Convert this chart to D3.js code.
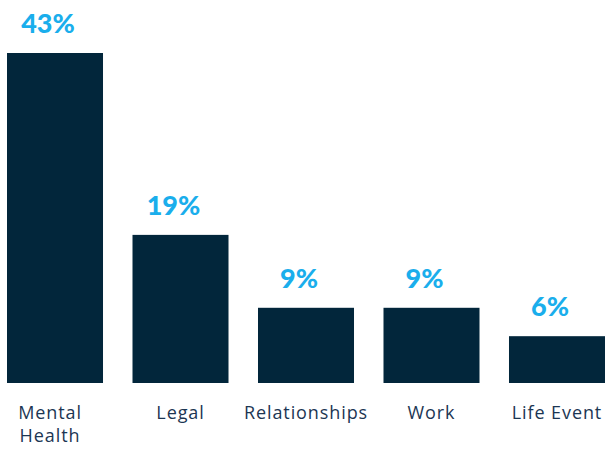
<!DOCTYPE html>
<html>
<head>
<meta charset="utf-8">
<script src="https://cdn.jsdelivr.net/npm/d3@7"></script>
<style>
  body { margin: 0; background: #fff; }
</style>
</head>
<body>
<div id="chart"></div>
<script>
// datos
const categorias = ["Mental Health", "Legal", "Relationships", "Work", "Life Event"];
const valores = [43, 19.3, 9.8, 9.8, 6.1];
const etiquetas = ["43%", "19%", "9%", "9%", "6%"];

const width = 605;
const height = 450;

const svg = d3.select("#chart")
    .append("svg")
    .attr("width", width)
    .attr("height", height);

const xScale = d3.scaleBand()
    .domain(categorias)
    .range([7, 605])
    .paddingInner(0.235)
    .paddingOuter(0);

const yScale = d3.scaleLinear()
    .domain([0, 43])
    .range([383, 53]);

// barras
svg.selectAll("rect")
    .data(valores)
    .enter()
    .append("rect")
    .attr("x", (d, i) => xScale(categorias[i]))
    .attr("y", d => yScale(d))
    .attr("width", xScale.bandwidth())
    .attr("height", d => yScale(0) - yScale(d))
    .attr("fill", "#02263b");

// porcentajes arriba de cada barra
svg.selectAll(".valor")
    .data(valores)
    .enter()
    .append("text")
    .attr("class", "valor")
    .text((d, i) => etiquetas[i])
    .attr("x", (d, i) => xScale(categorias[i]) + xScale.bandwidth() / 2)
    .attr("dx", -7)
    .attr("y", d => yScale(d) - 20)
    .attr("text-anchor", "middle")
    .attr("fill", "#1aaeec")
    .style("font-family", "Lato, 'Open Sans', sans-serif")
    .style("font-weight", "900")
    .style("font-size", "27px");

// eje X (solo etiquetas)
const ejeX = svg.append("g")
    .attr("transform", `translate(0,${yScale(0)})`)
    .call(d3.axisBottom(xScale).tickSize(0).tickPadding(0));

ejeX.select(".domain").remove();

ejeX.selectAll("text")
    .attr("fill", "#1c3653")
    .style("font-family", "'Open Sans', sans-serif")
    .style("font-size", "18px")
    .style("letter-spacing", "0.9px")
    .attr("dy", null)
    .attr("y", 36)
    .each(function(d) {
        const t = d3.select(this);
        if (d === "Mental Health") {
            t.text(null);
            t.append("tspan").attr("x", -5).attr("dy", 0).text("Mental");
            t.append("tspan").attr("x", -5).attr("dy", 23).text("Health");
        }
    });
</script>
</body>
</html>
